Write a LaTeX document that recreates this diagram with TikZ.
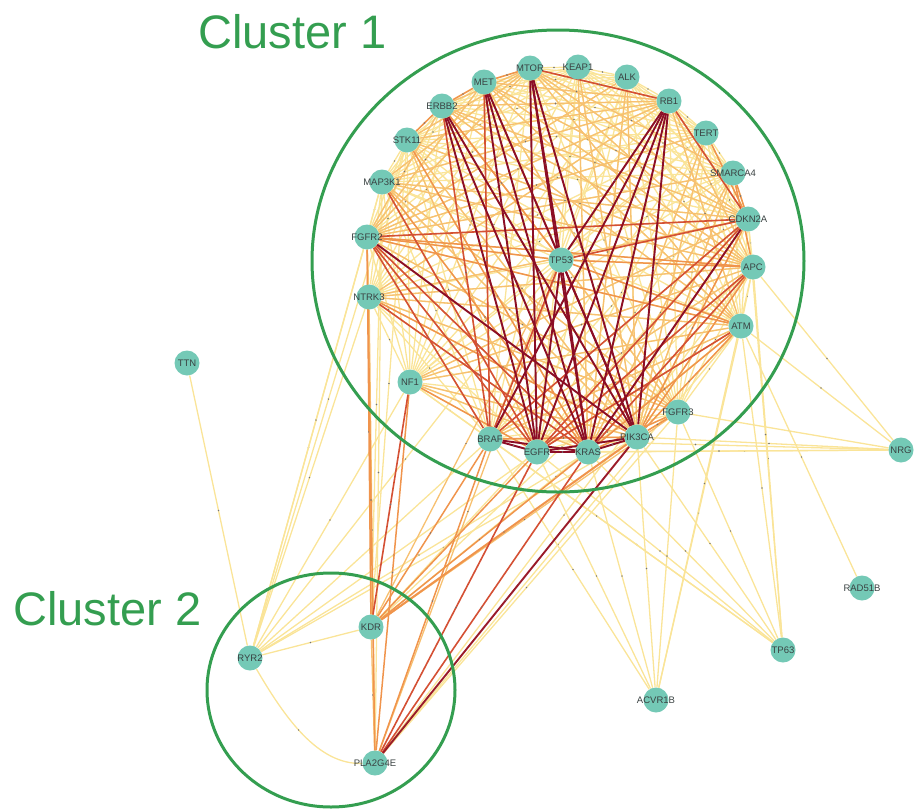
\documentclass[tikz,border=0pt]{standalone}
\usepackage{fontspec}
\newfontfamily\arialf{Liberation Sans}
\usetikzlibrary{decorations.markings}
\definecolor{nodec}{RGB}{116,201,182}
\definecolor{labc}{RGB}{58,66,66}
\definecolor{clg}{RGB}{52,158,80}
\definecolor{cpale}{RGB}{250,228,152}
\definecolor{clo}{RGB}{247,192,112}
\definecolor{cor}{RGB}{240,148,76}
\definecolor{crd}{RGB}{212,80,52}
\definecolor{cdk}{RGB}{140,14,38}
\pgfdeclarelayer{edges}
\pgfdeclarelayer{clusters}
\pgfsetlayers{edges,clusters,main}
\tikzset{
  gene/.style={circle, fill=nodec, minimum size=25pt, inner sep=0pt},
  glab/.style={font=\arialf\fontsize{9.5}{9.5}\selectfont, text=labc, inner sep=0pt},
  mk/.style={decoration={markings, mark=at position 0.5 with {\fill[black!55] (0,0) circle (0.8pt);}}, postaction={decorate}},
  ep/.style={draw=cpale, line width=1.3pt, mk},
  elo/.style={draw=clo, line width=1.3pt, mk},
  eor/.style={draw=cor, line width=1.5pt, mk},
  erd/.style={draw=crd, line width=1.6pt, mk},
  edk/.style={draw=cdk, line width=1.9pt, mk},
  clring/.style={draw=clg, line width=3pt},
  cltext/.style={font=\arialf\fontsize{47}{47}\selectfont, text=clg, inner sep=0pt, anchor=base west}
}
\begin{document}
\begin{tikzpicture}[x=1pt,y=-1pt]
\useasboundingbox (0,0) rectangle (914,809);
% nodes
\foreach \n/\x/\y in {MTOR/530/68, KEAP1/578/67, ALK/627/77, RB1/669/101, TERT/706/133,
  SMARCA4/733/173, CDKN2A/748/219, APC/753/267, ATM/741/326, FGFR3/678/412,
  PIK3CA/637/437, KRAS/588/452, EGFR/537/452, BRAF/490/439, NF1/410/382,
  NTRK3/369/297, FGFR2/367/237, MAP3K1/382/182, STK11/407/140, ERBB2/442/106,
  MET/484/82, TP53/561/260, TTN/187/363, KDR/371/627, RYR2/250/658,
  PLA2G4E/375/763, NRG/901/450, RAD51B/862/588, TP63/783/650, ACVR1B/656/700}
  {\node[gene, label={[glab]center:\n}] (\n) at (\x,\y) {};}
% cluster labels
\node[cltext] (c1) at (198,48) {Cluster 1};
\node[cltext] (c2) at (13,625) {Cluster 2};
\begin{pgfonlayer}{clusters}
\draw[clring] (558,261) ellipse [x radius=246, y radius=231];
\draw[clring] (331,690) ellipse [x radius=124, y radius=117];
\end{pgfonlayer}
\begin{pgfonlayer}{edges}
\def\ring{MTOR,KEAP1,ALK,RB1,TERT,SMARCA4,CDKN2A,APC,ATM,FGFR3,PIK3CA,KRAS,EGFR,BRAF,NF1,NTRK3,FGFR2,MAP3K1,STK11,ERBB2,MET,TP53}
\foreach \a [count=\i] in \ring {
  \foreach \b [count=\j] in \ring {
    \ifnum\j>\i \draw[ep] (\a) -- (\b); \fi
  }
}
% external pale edges
\foreach \a/\b in {RYR2/TTN, RYR2/KDR, RYR2/FGFR2, RYR2/NTRK3, RYR2/MAP3K1, RYR2/STK11,
  RYR2/NF1, RYR2/BRAF, RYR2/EGFR, RYR2/KRAS, RYR2/PIK3CA, RYR2/TP53,
  KDR/MAP3K1, KDR/STK11, KDR/APC, KDR/ATM, KDR/CDKN2A,
  PLA2G4E/MAP3K1, PLA2G4E/FGFR3, PLA2G4E/ATM, PLA2G4E/APC,
  NRG/APC, NRG/ATM, NRG/PIK3CA, NRG/KRAS, NRG/EGFR, NRG/BRAF, NRG/FGFR3,
  TP63/APC, TP63/ATM, TP63/FGFR3, TP63/PIK3CA, TP63/KRAS, TP63/EGFR, TP63/BRAF, TP63/CDKN2A, TP63/NF1,
  ACVR1B/PIK3CA, ACVR1B/KRAS, ACVR1B/EGFR, ACVR1B/BRAF, ACVR1B/FGFR3, ACVR1B/ATM, ACVR1B/APC,
  RAD51B/ATM}
  {\draw[ep] (\a) -- (\b);}
\draw[ep] (RYR2) .. controls (285,718) and (318,765) .. (PLA2G4E);
% light orange
\foreach \a/\b in {MTOR/ERBB2, MTOR/STK11, MTOR/MAP3K1, MTOR/FGFR2, MTOR/CDKN2A, MTOR/APC, MTOR/ATM, MTOR/SMARCA4,
  MET/RB1, MET/CDKN2A, MET/APC, MET/ATM, MET/FGFR2, ERBB2/RB1, ERBB2/CDKN2A, ERBB2/APC, ERBB2/ATM, ERBB2/FGFR2,
  RB1/FGFR2, RB1/NTRK3, RB1/MAP3K1, RB1/STK11, RB1/ATM, RB1/APC, ALK/KRAS, ALK/PIK3CA, ALK/FGFR2,
  KEAP1/KRAS, KEAP1/PIK3CA, TERT/KRAS, TERT/PIK3CA, TERT/FGFR2, SMARCA4/KRAS, SMARCA4/PIK3CA, SMARCA4/FGFR2,
  STK11/PIK3CA, STK11/EGFR, STK11/APC, MAP3K1/PIK3CA, MAP3K1/APC, MAP3K1/CDKN2A, NTRK3/APC, NTRK3/CDKN2A,
  NTRK3/ATM, NF1/APC, NF1/CDKN2A, NF1/ATM, FGFR3/FGFR2, FGFR3/NTRK3, FGFR3/MAP3K1, FGFR3/ERBB2, FGFR3/MET,
  NF1/PIK3CA, NF1/KRAS, ATM/BRAF, ATM/EGFR, APC/BRAF,
  KDR/NTRK3, KDR/FGFR3, KDR/TP53, KDR/PLA2G4E, PLA2G4E/NTRK3, PLA2G4E/TP53}
  {\draw[elo] (\a) -- (\b);}
% orange
\foreach \a/\b in {MTOR/MET, MET/ERBB2, ERBB2/STK11, FGFR2/TP53, TP53/APC, FGFR2/APC, FGFR2/ATM, TP53/ATM,
  CDKN2A/PIK3CA, APC/PIK3CA, ATM/PIK3CA, ATM/KRAS, NTRK3/PIK3CA, MAP3K1/KRAS, STK11/KRAS,
  FGFR3/PIK3CA, FGFR3/KRAS, NF1/EGFR, BRAF/PIK3CA, CDKN2A/SMARCA4, SMARCA4/APC, TERT/CDKN2A,
  ERBB2/TP53, MET/TP53,
  KDR/FGFR2, KDR/BRAF, KDR/EGFR, KDR/KRAS, PLA2G4E/FGFR2, PLA2G4E/BRAF, PLA2G4E/NF1}
  {\draw[eor] (\a) -- (\b);}
\draw[eor, line width=2pt] (KDR) -- (PIK3CA);
% red
\foreach \a/\b in {MTOR/RB1, FGFR2/KRAS, FGFR2/EGFR, FGFR2/BRAF, CDKN2A/EGFR, CDKN2A/BRAF, APC/KRAS, APC/EGFR,
  ATM/EGFR, TP53/BRAF, NTRK3/KRAS, RB1/CDKN2A, ERBB2/BRAF, MET/BRAF, MAP3K1/EGFR, CDKN2A/TP53, FGFR2/CDKN2A,
  KDR/NF1, PLA2G4E/EGFR, PLA2G4E/KRAS}
  {\draw[erd] (\a) -- (\b);}
% dark red
\foreach \a/\b in {MTOR/TP53, MTOR/EGFR, MTOR/KRAS, MTOR/PIK3CA, MET/KRAS, MET/PIK3CA, MET/EGFR,
  ERBB2/KRAS, ERBB2/EGFR, ERBB2/PIK3CA, RB1/TP53, RB1/KRAS, RB1/EGFR, RB1/PIK3CA, RB1/BRAF,
  TP53/KRAS, TP53/PIK3CA, TP53/EGFR, FGFR2/PIK3CA, CDKN2A/KRAS,
  BRAF/EGFR, EGFR/KRAS, KRAS/PIK3CA, BRAF/KRAS, EGFR/PIK3CA}
  {\draw[edk] (\a) -- (\b);}
\draw[edk, draw=cdk!80!crd] (PLA2G4E) -- (PIK3CA);
\end{pgfonlayer}
\end{tikzpicture}
\end{document}
